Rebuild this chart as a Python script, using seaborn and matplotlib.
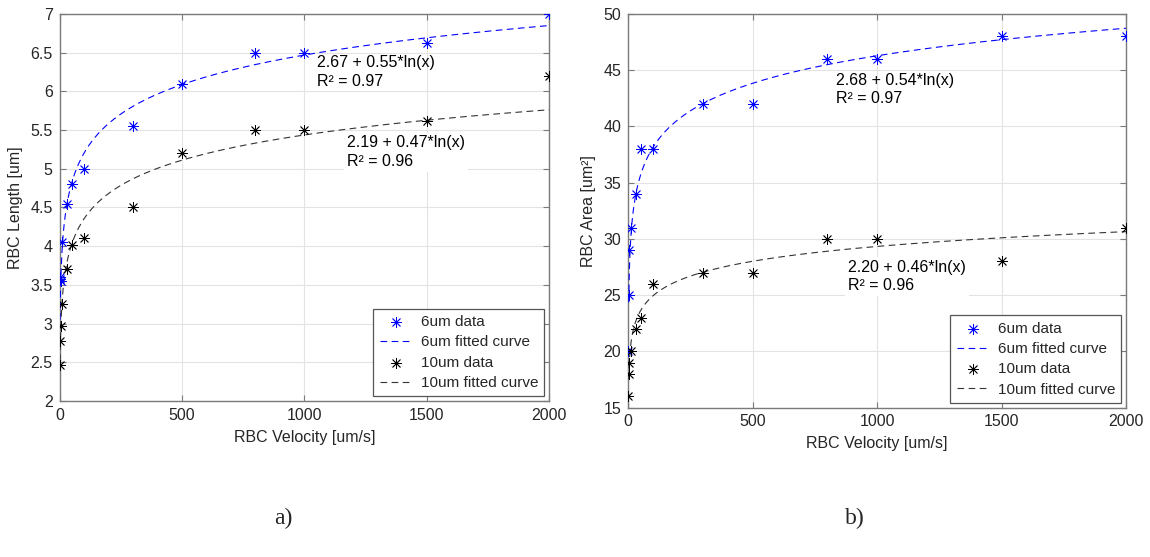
import numpy as np
import pandas as pd
import matplotlib
matplotlib.use("Agg")
import matplotlib.pyplot as plt
import seaborn as sns

# velocities [um/s] for each measured point
velocity = [1, 2, 5, 10, 30, 50, 100, 300, 500, 800, 1000, 1500, 2000]

# RBC length [um]
length_6um = [3.6, 3.57, 3.55, 4.05, 4.55, 4.8, 5.0, 5.55, 6.1, 6.5, 6.5, 6.62, 7.0]
length_10um = [2.47, 2.77, 2.97, 3.25, 3.7, 4.02, 4.1, 4.5, 5.2, 5.5, 5.5, 5.62, 6.2]

# RBC area [um^2]
area_6um = [20, 25, 29, 31, 34, 38, 38, 42, 42, 46, 46, 48, 48]
area_10um = [16, 18, 19, 20, 22, 23, 26, 27, 27, 30, 30, 28, 31]

# fitted curves  y = a + b*ln(x)
fit_len_6um = (2.67, 0.55)
fit_len_10um = (2.19, 0.47)
fit_area_6um = (21.9, 3.53)
fit_area_10um = (16.2, 1.90)

labels_len = ["2.67 + 0.55*ln(x)\nR\u00b2 = 0.97", "2.19 + 0.47*ln(x)\nR\u00b2 = 0.96"]
labels_area = ["2.68 + 0.54*ln(x)\nR\u00b2 = 0.97", "2.20 + 0.46*ln(x)\nR\u00b2 = 0.96"]

sns.set_style("whitegrid")
plt.rcParams['font.family'] = ['Liberation Sans', 'DejaVu Sans']
plt.rcParams['font.size'] = 11.5

GRAY = '#7a7a7a'
TXT = '#262626'
STAR = (8, 2, 0)
FS = 11.5

fig = plt.figure(figsize=(11.5, 5.57), dpi=100)
ax1 = fig.add_axes([0.0518, 0.2801, 0.4256, 0.6948])
ax2 = fig.add_axes([0.5463, 0.2684, 0.4328, 0.7065])

x_fit = np.linspace(2, 2000, 1000)


def draw_panel(ax, y6, y10, fit6, fit10, ylim, yticks, ylabel, txt, txt_pos):
    df = pd.DataFrame({'v': velocity, 'y6': y6, 'y10': y10})
    curve = pd.DataFrame({'v': x_fit,
                          'c6': fit6[0] + fit6[1] * np.log(x_fit),
                          'c10': fit10[0] + fit10[1] * np.log(x_fit)})

    sns.scatterplot(data=df, x='v', y='y6', ax=ax, marker=STAR, s=55, color='#0000ff',
                    linewidth=0.6, edgecolor='#0000ff', label='6um data', zorder=4)
    sns.lineplot(data=curve, x='v', y='c6', ax=ax, color='#0000ff', linewidth=0.8,
                 dashes=False, label='6um fitted curve', zorder=3)
    sns.scatterplot(data=df, x='v', y='y10', ax=ax, marker=STAR, s=55, color='black',
                    linewidth=0.6, edgecolor='black', label='10um data', zorder=4)
    sns.lineplot(data=curve, x='v', y='c10', ax=ax, color='#333333', linewidth=0.8,
                 dashes=False, label='10um fitted curve', zorder=3)
    for ln in ax.get_lines():
        ln.set_linestyle((0, (6, 4)))

    ax.set_xlim(0, 2000)
    ax.set_ylim(*ylim)
    ax.set_xticks([0, 500, 1000, 1500, 2000])
    ax.set_yticks(yticks)
    ax.set_yticklabels([f"{t:g}" for t in yticks])
    ax.set_xlabel("RBC Velocity [um/s]", color=TXT, fontsize=FS, labelpad=5)
    ax.set_ylabel(ylabel, color=TXT, fontsize=FS, labelpad=5)

    ax.grid(True, color='#e3e3e3', linewidth=0.8)
    for sp in ax.spines.values():
        sp.set_visible(True)
        sp.set_color(GRAY)
        sp.set_linewidth(1.0)
    ax.tick_params(direction='in', length=4, width=0.8, color=GRAY, labelcolor=TXT,
                   labelsize=FS, top=True, right=True, bottom=True, left=True, pad=5)

    ax.text(txt_pos[0][0], txt_pos[0][1], txt[0], va='center', ha='left', color='black',
            fontsize=FS, linespacing=1.3, zorder=5)
    ax.text(txt_pos[1][0], txt_pos[1][1], txt[1], va='center', ha='left', color='black',
            fontsize=FS, linespacing=1.3, zorder=5,
            bbox=dict(facecolor='white', edgecolor='none', pad=2))

    leg = ax.legend(loc='lower right', frameon=True, fancybox=False, framealpha=1,
                    edgecolor='#555555', fontsize=11, handlelength=2.2,
                    borderpad=0.4, labelspacing=0.42, handletextpad=0.5,
                    borderaxespad=0.3)
    leg.get_frame().set_linewidth(0.9)


draw_panel(ax1, length_6um, length_10um, fit_len_6um, fit_len_10um, (2, 7),
           [2, 2.5, 3, 3.5, 4, 4.5, 5, 5.5, 6, 6.5, 7], "RBC Length [um]",
           labels_len, [(1050, 6.25), (1175, 5.215)])
draw_panel(ax2, area_6um, area_10um, fit_area_6um, fit_area_10um, (15, 50),
           [15, 20, 25, 30, 35, 40, 45, 50], "RBC Area [um\u00b2]",
           labels_area, [(835, 43.27), (883, 26.66)])

fig.text(0.246, 0.07, "a)", ha='center', va='center', fontsize=17,
         family=['Liberation Serif', 'DejaVu Serif'])
fig.text(0.7435, 0.07, "b)", ha='center', va='center', fontsize=17,
         family=['Liberation Serif', 'DejaVu Serif'])

fig.savefig("out.png", dpi=100)
